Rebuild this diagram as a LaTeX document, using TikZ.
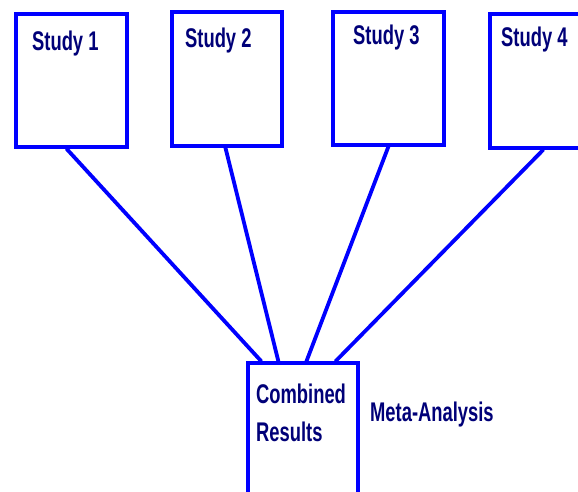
\documentclass[tikz,border=0pt]{standalone}
\usepackage{fontspec}
\newfontfamily\condf{Liberation Sans Bold}[FakeStretch=0.68]
\definecolor{boxblue}{RGB}{0,0,255}
\definecolor{txtnavy}{RGB}{0,0,120}
\begin{document}
\begin{tikzpicture}[x=1pt,y=-1pt,
  studybox/.style={draw=boxblue,line width=3.2pt,inner sep=0pt,fill=white},
  lbl/.style={inner sep=0pt,anchor=base west,text=txtnavy,font=\condf\fontsize{27}{30}\selectfont},
  conn/.style={draw=boxblue,line width=3.8pt}]
\useasboundingbox (0,0) rectangle (578,491);
\clip (0,0) rectangle (578,491);
% boxes
\node[studybox,minimum width=111pt,minimum height=133pt] (s1) at (71.5,80.5) {};
\node[studybox,minimum width=110pt,minimum height=134pt] (s2) at (227,79) {};
\node[studybox,minimum width=111pt,minimum height=133pt] (s3) at (388.5,78.5) {};
\node[studybox,minimum width=111pt,minimum height=134pt] (s4) at (545.5,81) {};
\node[studybox,minimum width=110pt,minimum height=134pt] (cr) at (303,430) {};
% connector end points
\coordinate (a1) at ([xshift=52pt]s1.south west);
\coordinate (a2) at ([xshift=55pt]s2.south west);
\coordinate (a3) at ([xshift=57pt]s3.south west);
\coordinate (a4) at ([xshift=55pt]s4.south west);
\coordinate (b1) at ([xshift=15pt]cr.north west);
\coordinate (b2) at ([xshift=32pt]cr.north west);
\coordinate (b3) at ([xshift=60pt]cr.north west);
\coordinate (b4) at ([xshift=89pt]cr.north west);
\draw[conn] (a1) -- (b1);
\draw[conn] (a2) -- (b2);
\draw[conn] (a3) -- (b3);
\draw[conn] (a4) -- (b4);
% labels
\node[lbl] (t1) at (32,50) {Study 1};
\node[lbl] (t2) at (185,47) {Study 2};
\node[lbl] (t3) at (353,44) {Study 3};
\node[lbl] (t4) at (501,46) {Study 4};
\node[lbl] (t5) at (256,403) {Combined};
\node[lbl] (t6) at (256,441) {Results};
\node[lbl] (t7) at (370,421) {Meta-Analysis};
\end{tikzpicture}
\end{document}
